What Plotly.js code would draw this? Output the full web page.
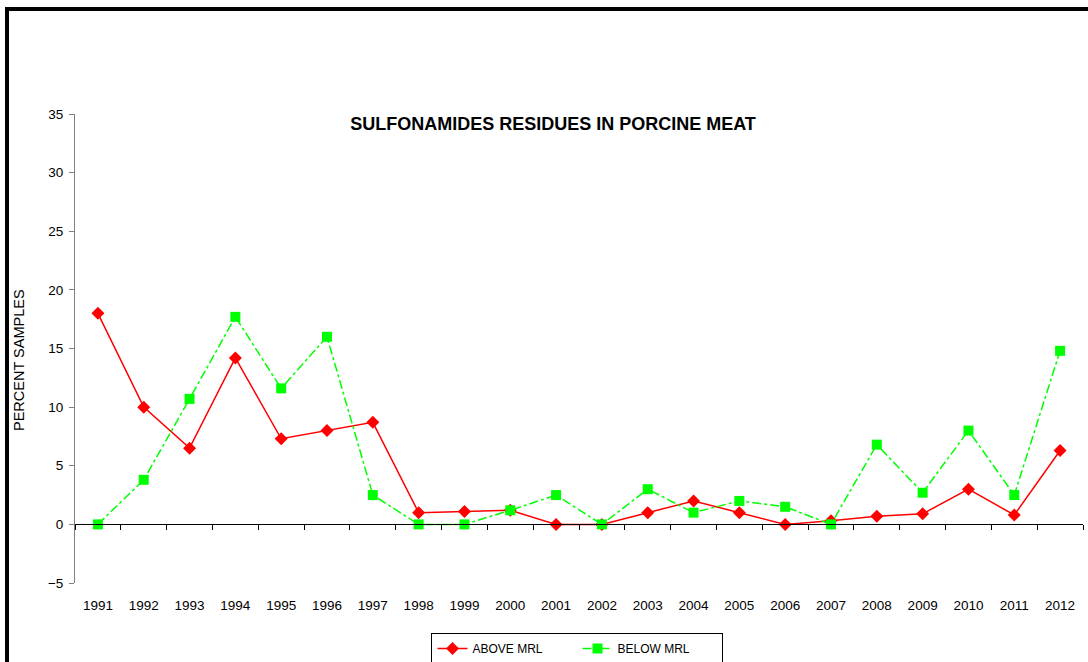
<!DOCTYPE html>
<html>
<head>
<meta charset="utf-8">
<script src="https://cdn.plot.ly/plotly-3.0.1.min.js"></script>
<style>
  html, body { margin: 0; padding: 0; background: #fff; overflow: hidden; }
  #chart { position: absolute; left: 0; top: 0; width: 1088px; height: 662px; }
  #frame { position: absolute; left: 5px; top: 7px; width: 1200px; height: 800px;
           border-left: 4px solid #000; border-top: 4px solid #000; pointer-events: none; z-index: 10; }
</style>
</head>
<body>
<div id="chart"></div>
<div id="frame"></div>
<script>
const years = ["1991","1992","1993","1994","1995","1996","1997","1998","1999","2000","2001",
               "2002","2003","2004","2005","2006","2007","2008","2009","2010","2011","2012"];
const aboveMRL = [18, 10, 6.5, 14.2, 7.3, 8, 8.7, 1.0, 1.1, 1.2, 0,
                  0, 1.0, 2.0, 1.0, 0, 0.3, 0.7, 0.9, 3.0, 0.8, 6.3];
const belowMRL = [0, 3.8, 10.7, 17.7, 11.6, 16, 2.5, 0, 0, 1.2, 2.5,
                  0, 3.0, 1.0, 2.0, 1.5, 0, 6.8, 2.7, 8.0, 2.5, 14.8];
const seriesNames = ["ABOVE MRL", "BELOW MRL"];
const chartTitle = "SULFONAMIDES RESIDUES IN PORCINE MEAT";
const yTitle = "PERCENT SAMPLES";

const boundaries = [];
for (let i = 0; i <= years.length; i++) boundaries.push(i - 0.5);

const traces = [
  {
    x: years, y: aboveMRL, name: seriesNames[0], type: "scatter", mode: "lines+markers",
    line: { color: "#FF0000", width: 1.5 },
    marker: { symbol: "diamond", size: 10, color: "#FF0000" }
  },
  {
    x: years, y: belowMRL, name: seriesNames[1], type: "scatter", mode: "lines+markers",
    line: { color: "#00FF00", width: 1.5, dash: "dashdot" },
    marker: { symbol: "square", size: 10, color: "#00FF00" }
  },
  {
    x: [], y: [], xaxis: "x2", yaxis: "y", type: "scatter", mode: "lines",
    showlegend: false, hoverinfo: "skip"
  }
];

const F = "Arial, 'Liberation Sans', sans-serif";
const layout = {
  width: 1088, height: 662,
  margin: { l: 75, r: 5, t: 114, b: 79, autoexpand: false },
  paper_bgcolor: "rgba(0,0,0,0)",
  plot_bgcolor: "#fff",
  font: { family: F, size: 13, color: "#000" },
  showlegend: true,
  title: {
    text: "<b>" + chartTitle + "</b>",
    font: { family: F, size: 18, color: "#000" },
    xref: "container", yref: "container",
    x: 553 / 1088, y: 1 - 124 / 662, xanchor: "center", yanchor: "middle"
  },
  xaxis: {
    type: "category", range: [-0.5, years.length - 0.5],
    showline: false, ticks: "", showgrid: false, zeroline: false,
    tickfont: { family: F, size: 13.5, color: "#000" },
    ticklabelstandoff: 12, fixedrange: true
  },
  xaxis2: {
    overlaying: "x", anchor: "free", position: 0.125, type: "linear",
    range: [-0.5, years.length - 0.5],
    tickmode: "array", tickvals: boundaries, showticklabels: false,
    ticks: "outside", ticklen: 5, tickcolor: "#000", tickwidth: 1,
    showline: true, linecolor: "#000", linewidth: 1,
    showgrid: false, zeroline: false, side: "bottom"
  },
  yaxis: {
    range: [-5, 35], dtick: 5, tick0: 0,
    ticks: "outside", ticklen: 5, tickcolor: "#808080", tickwidth: 1,
    showline: true, linecolor: "#808080", linewidth: 1,
    showgrid: false, zeroline: false,
    tickfont: { family: F, size: 13.5, color: "#000" },
    ticklabelstandoff: 3
  },
  annotations: [{
    text: yTitle, textangle: -90, showarrow: false,
    xref: "paper", yref: "paper",
    x: (19 - 75) / 1008, y: (583 - 360) / 469, xanchor: "center", yanchor: "middle",
    font: { family: F, size: 14.5, color: "#000" }
  }],
  legend: {
    orientation: "h", xref: "paper", x: 0.4985, xanchor: "center",
    yref: "container", y: 1 - 633 / 662, yanchor: "top",
    bordercolor: "#000", borderwidth: 1, bgcolor: "#fff",
    entrywidth: 100, entrywidthmode: "pixels",
    font: { family: F, size: 12, color: "#000" }
  }
};

Plotly.newPlot("chart", traces, layout, { displayModeBar: false, staticPlot: true });
</script>
</body>
</html>
